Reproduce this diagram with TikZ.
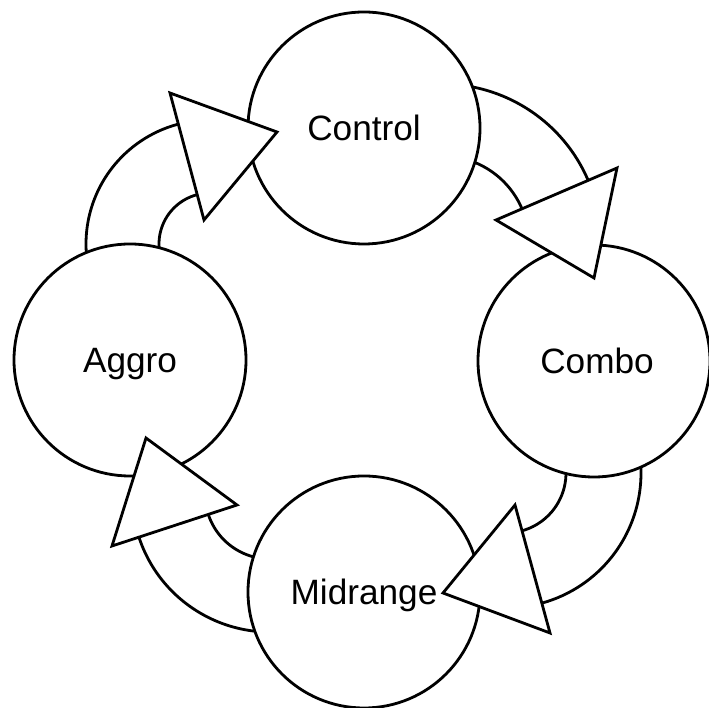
\documentclass[tikz,border=0pt]{standalone}
\usepackage{fontspec}
\setmainfont{Liberation Sans}
\begin{document}
\begin{tikzpicture}[x=1pt,y=1pt,
  stage/.style={circle,draw,fill=white,line width=2.8pt,minimum size=232pt,
    inner sep=0pt,font=\fontsize{35.2}{42}\selectfont,text height=25pt,text depth=0pt},
  band/.style={line width=2.8pt},
  head/.style={draw,fill=white,line width=2.8pt,line join=miter}]
\useasboundingbox (0,0) rectangle (709,708);

% centres of the curved arrow bodies
\coordinate (c1) at (210,464);
\coordinate (c2) at (442,465);
\coordinate (c3) at (506,235);
\coordinate (c4) at (270,214);

% arrow bodies: pairs of concentric arcs, starting under the source circle
\draw[band] (c1) ++(200:124) arc[start angle=200,end angle=102.8,radius=124];
\draw[band] (c1) ++(200:51)  arc[start angle=200,end angle=102.8,radius=51];
\draw[band] (c2) ++(95:159)  arc[start angle=95,end angle=21.2,radius=159];
\draw[band] (c2) ++(95:87)   arc[start angle=95,end angle=21.2,radius=87];
\draw[band] (c3) ++(20:135)  arc[start angle=20,end angle=-76.6,radius=135];
\draw[band] (c3) ++(20:60)   arc[start angle=20,end angle=-76.6,radius=60];
\draw[band] (c4) ++(285:138) arc[start angle=285,end angle=196.2,radius=138];
\draw[band] (c4) ++(285:65)  arc[start angle=285,end angle=196.2,radius=65];

% the four stages
\node[stage] (control)  at (364,580) {Control};
\node[stage] (combo)    at (594,347) {\hspace*{6pt}Combo};
\node[stage] (midrange) at (364,116) {Midrange};
\node[stage] (aggro)    at (130,348) {Aggro};

% arrow heads
\coordinate (h1a) at (170,615); \coordinate (h1b) at (204,488); \coordinate (t1) at (277,576);
\coordinate (h2a) at (496,488); \coordinate (h2b) at (617,540); \coordinate (t2) at (594,430);
\coordinate (h3a) at (515,203); \coordinate (h3b) at (550,75);  \coordinate (t3) at (443,115);
\coordinate (h4a) at (112,162); \coordinate (h4b) at (237,203); \coordinate (t4) at (146,270);
\draw[head] (h1a) -- (t1) -- (h1b) -- cycle;
\draw[head] (h2a) -- (h2b) -- (t2) -- cycle;
\draw[head] (h3a) -- (h3b) -- (t3) -- cycle;
\draw[head] (h4a) -- (h4b) -- (t4) -- cycle;
\end{tikzpicture}
\end{document}
